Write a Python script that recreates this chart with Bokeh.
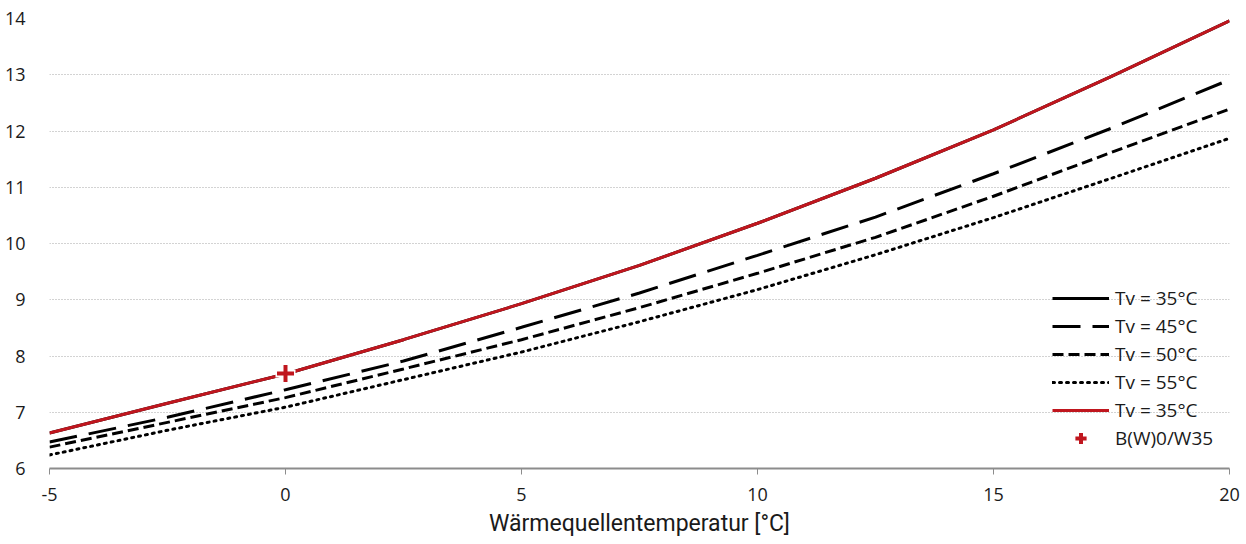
from bokeh.plotting import figure
from bokeh.models import Legend, LegendItem, FixedTicker, Range1d, PrintfTickFormatter
from bokeh.embed import file_html
from bokeh.resources import INLINE

# Data
x_temp = [-5, -2.5, 0, 2.5, 5, 7.5, 10, 12.5, 15, 17.5, 20]
tv35 = [6.63, 7.16, 7.68, 8.29, 8.93, 9.61, 10.36, 11.16, 12.02, 12.97, 13.96]
tv45 = [6.47, 6.91, 7.40, 7.91, 8.51, 9.12, 9.79, 10.47, 11.24, 12.05, 12.91]
tv50 = [6.38, 6.82, 7.26, 7.77, 8.29, 8.86, 9.47, 10.11, 10.84, 11.62, 12.39]
tv55 = [6.24, 6.68, 7.09, 7.58, 8.07, 8.61, 9.18, 9.80, 10.46, 11.16, 11.87]
point_x = [0]
point_y = [7.69]
x_ticks = [-5, 0, 5, 10, 15, 20]
y_ticks = [6, 7, 8, 9, 10, 11, 12, 13, 14]
labels = ["Tv = 35°C", "Tv = 45°C", "Tv = 50°C", "Tv = 55°C", "Tv = 35°C", "B(W)0/W35"]

RED = "#C0161E"
TICK_FONT = "Open Sans"
TEXT_COLOR = "#1a1a1a"

p = figure(width=1246, height=544, output_backend="svg", toolbar_location=None,
           x_range=Range1d(-5, 20), y_range=Range1d(6, 14),
           min_border_left=49, min_border_right=17, min_border_top=18, min_border_bottom=76)
p.outline_line_color = None

r35b = p.line(x_temp, tv35, line_color="black", line_width=3)
r45 = p.line(x_temp, tv45, line_color="black", line_width=3, line_dash="28 12")
r50 = p.line(x_temp, tv50, line_color="black", line_width=3, line_dash="11 5")
r55 = p.line(x_temp, tv55, line_color="black", line_width=3, line_dash="2 5", line_cap="round")
r35r = p.line(x_temp, tv35, line_color=RED, line_width=3)
p.scatter(point_x, point_y, marker="cross", size=20, line_color="white", line_width=8)
rpt = p.scatter(point_x, point_y, marker="cross", size=17, line_color=RED, line_width=4)

# axes
p.xaxis.ticker = FixedTicker(ticks=x_ticks)
p.yaxis.ticker = FixedTicker(ticks=y_ticks)
p.xaxis.formatter = PrintfTickFormatter(format="%d")
p.yaxis.formatter = PrintfTickFormatter(format="%d")
p.xaxis.axis_line_color = "#8c8c8c"
p.xaxis.axis_line_width = 2
p.xaxis.major_tick_line_color = "#8c8c8c"
p.xaxis.major_tick_out = 6
p.xaxis.major_tick_in = 0
p.xaxis.minor_tick_line_color = None
p.xaxis.major_label_text_font = TICK_FONT
p.xaxis.major_label_text_font_size = "18px"
p.xaxis.major_label_text_color = TEXT_COLOR
p.xaxis.major_label_standoff = 13
p.xaxis.axis_label = "Wärmequellentemperatur [°C]"
p.xaxis.axis_label_text_font = "Roboto"
p.xaxis.axis_label_text_font_style = "normal"
p.xaxis.axis_label_text_font_size = "23px"
p.xaxis.axis_label_text_color = TEXT_COLOR
p.xaxis.axis_label_standoff = 6

p.yaxis.axis_line_color = None
p.yaxis.major_tick_line_color = None
p.yaxis.minor_tick_line_color = None
p.yaxis.major_label_text_font = TICK_FONT
p.yaxis.major_label_text_font_size = "18px"
p.yaxis.major_label_text_color = TEXT_COLOR
p.yaxis.major_label_standoff = 18

p.xgrid.grid_line_color = None
p.ygrid.grid_line_color = "#a6a6a6"
p.ygrid.grid_line_dash = "1 2"
p.ygrid.grid_line_width = 1

legend = Legend(items=[
    LegendItem(label=labels[0], renderers=[r35b]),
    LegendItem(label=labels[1], renderers=[r45]),
    LegendItem(label=labels[2], renderers=[r50]),
    LegendItem(label=labels[3], renderers=[r55]),
    LegendItem(label=labels[4], renderers=[r35r]),
    LegendItem(label=labels[5], renderers=[rpt]),
], location=(1003, 16))
legend.border_line_color = None
legend.background_fill_alpha = 0
legend.glyph_width = 57
legend.glyph_height = 28
legend.label_text_font = TICK_FONT
legend.label_text_font_size = "19px"
legend.label_text_color = TEXT_COLOR
legend.label_standoff = 6
legend.spacing = 0
legend.padding = 0
legend.margin = 0
p.add_layout(legend)

open("out.html", "w").write(file_html(p, INLINE))
